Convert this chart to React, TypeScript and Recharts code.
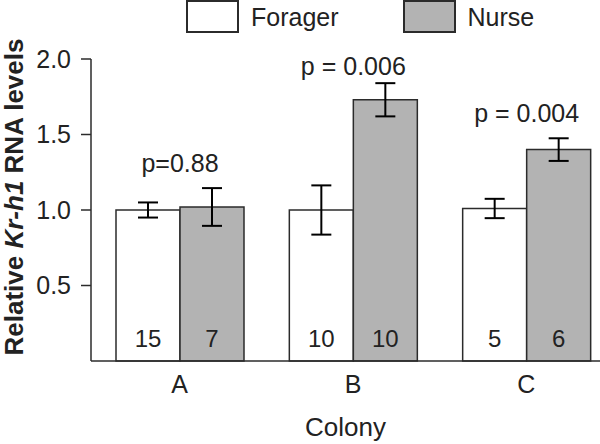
import { BarChart, Bar, XAxis, YAxis, ErrorBar, LabelList } from 'recharts';

const categories = ['A', 'B', 'C'];
const foragerValues = [1.0, 1.0, 1.01];
const foragerErrors = [0.05, 0.163, 0.064];
const nurseValues = [1.02, 1.73, 1.4];
const nurseErrors = [0.125, 0.11, 0.075];
const foragerCounts = [15, 10, 5];
const nurseCounts = [7, 10, 6];
const pLabels = ['p=0.88', 'p = 0.006', 'p = 0.004'];
const seriesNames = ['Forager', 'Nurse'];
const yTicks = [0.5, 1.0, 1.5, 2.0];

const FONT = '"Liberation Sans", Arial, sans-serif';
const NURSE_FILL = '#b3b3b3';
const EDGE = '#2b2b2b';

const data = categories.map((colony, i) => ({
  colony,
  forager: foragerValues[i],
  foragerErr: foragerErrors[i],
  nurse: nurseValues[i],
  nurseErr: nurseErrors[i],
  foragerN: foragerCounts[i],
  nurseN: nurseCounts[i],
}));

// legend drawn as an overlay so it doesn't push the plot down
function TopLegend() {
  const fills = ['#ffffff', NURSE_FILL];
  return (
    <div
      style={{
        position: 'absolute', left: 186, top: 0, display: 'flex', alignItems: 'center',
        fontFamily: FONT, fontSize: 25, color: '#222', lineHeight: '32px',
      }}
    >
      {seriesNames.map((name, i) => (
        <div key={name} style={{ display: 'flex', alignItems: 'center', marginLeft: i === 0 ? 0 : 64 }}>
          <div style={{ width: 49, height: 29, background: fills[i], border: `2px solid ${EDGE}` }} />
          <span style={{ marginLeft: 12 }}>{name}</span>
        </div>
      ))}
    </div>
  );
}

// p-value text sits above the nurse error bar, centred on the colony,
// kept clear of the legend
function PLabel(props: any) {
  const { x, y, height, value, index } = props;
  const err = nurseErrors[index];
  const pxPerUnit = height / value;
  const top = y - err * pxPerUnit;
  return (
    <text x={x} y={Math.max(top - 16, 75)} textAnchor="middle" fontFamily={FONT} fontSize={25} fill="#222">
      {pLabels[index]}
    </text>
  );
}

function YLabel() {
  return (
    <text
      x={14}
      y={197}
      transform="rotate(-90, 14, 197)"
      textAnchor="middle"
      dominantBaseline="central"
      fontFamily={FONT}
      fontSize={26}
      fontWeight="bold"
      fill="#222"
    >
      Relative <tspan fontStyle="italic">Kr-h1</tspan> RNA levels
    </text>
  );
}

export default function App() {
  return (
    <div style={{ position: 'absolute', left: 0, top: 0, width: 600, height: 444, background: '#fff' }}>
      <BarChart
        width={600}
        height={444}
        data={data}
        margin={{ top: 59, right: 0, bottom: 0, left: 0 }}
        barGap={0}
        barSize={64}
      >
        <XAxis
          dataKey="colony"
          height={83}
          padding={{ left: 2, right: -13 }}
          tickLine={false}
          tickSize={0}
          tickMargin={14}
          axisLine={{ stroke: EDGE, strokeWidth: 1.5 }}
          tick={{ fill: '#222', fontSize: 25, fontFamily: FONT }}
          label={{ value: 'Colony', position: 'insideBottom', offset: 8, fill: '#222', fontSize: 26, fontFamily: FONT }}
        />
        <YAxis
          width={91}
          domain={[0, 2]}
          ticks={yTicks}
          tickFormatter={(v: number) => v.toFixed(1)}
          tickSize={10}
          tickMargin={10}
          tickLine={{ stroke: EDGE, strokeWidth: 1.5 }}
          axisLine={{ stroke: EDGE, strokeWidth: 1.5 }}
          tick={{ fill: '#222', fontSize: 25, fontFamily: FONT }}
          label={<YLabel />}
        />
        <Bar dataKey="forager" name={seriesNames[0]} fill="#ffffff" stroke={EDGE} strokeWidth={1.5} isAnimationActive={false}>
          <ErrorBar dataKey="foragerErr" width={10} stroke="#000" strokeWidth={2} direction="y" />
          <LabelList dataKey="foragerN" position="insideBottom" offset={14} fill="#222" fontSize={24} fontFamily={FONT} />
        </Bar>
        <Bar dataKey="nurse" name={seriesNames[1]} fill={NURSE_FILL} stroke={EDGE} strokeWidth={1.5} isAnimationActive={false}>
          <ErrorBar dataKey="nurseErr" width={10} stroke="#000" strokeWidth={2} direction="y" />
          <LabelList dataKey="nurseN" position="insideBottom" offset={14} fill="#222" fontSize={24} fontFamily={FONT} />
          <LabelList dataKey="nurse" content={<PLabel />} />
        </Bar>
      </BarChart>
      <TopLegend />
    </div>
  );
}
